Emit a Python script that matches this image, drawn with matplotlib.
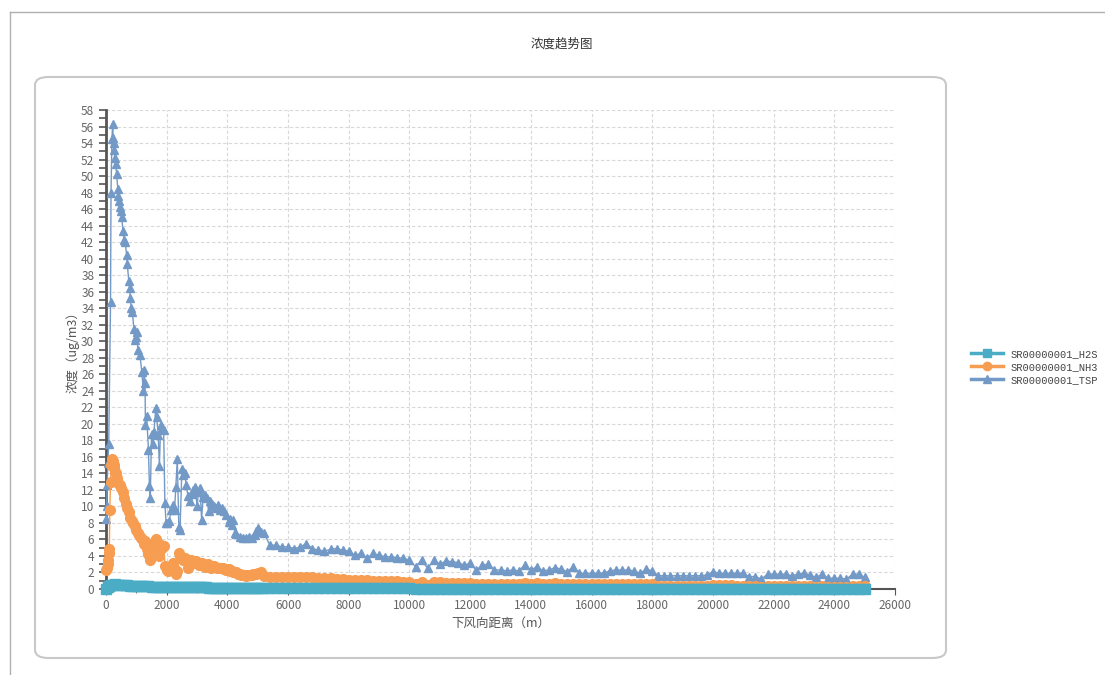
import matplotlib.pyplot as plt
from matplotlib.patches import FancyBboxPatch
from matplotlib.lines import Line2D
from matplotlib.ticker import MultipleLocator
import numpy as np

plt.rcParams['font.family'] = ['Noto Sans CJK SC', 'DejaVu Sans']

# near-source part (m, ug/m3)
tsp_x_near = [0, 20, 40, 60, 90, 150, 165, 195, 220, 240, 260, 280, 300, 320, 350, 390, 410, 430, 460, 490,
              520, 560, 600, 630, 680, 700, 750, 780, 800, 830, 870, 920, 950, 980, 1010, 1050, 1120, 1180,
              1230, 1260, 1285, 1300, 1340, 1400, 1430, 1460, 1500, 1540, 1580, 1640, 1670, 1720, 1760, 1800,
              1850, 1900, 1940, 1980, 2020, 2080, 2150, 2200, 2260, 2300, 2350, 2400, 2440, 2500, 2550, 2600,
              2640, 2700, 2760, 2820, 2880, 2940, 3000, 3050, 3100, 3150, 3200, 3260, 3320, 3380, 3440, 3500,
              3560, 3620, 3680, 3750, 3820, 3900, 3960, 4050, 4100, 4150, 4200, 4250, 4300, 4400, 4500, 4600,
              4700, 4800, 4900, 4950, 5000, 5100]
tsp_y_near = [8.5, 10.0, 12.6, 15.2, 17.6, 34.8, 48.0, 54.5, 56.3, 54.6, 54.0, 53.2, 52.2, 51.5, 50.2, 48.4, 47.6,
              47.0, 46.3, 45.8, 45.0, 43.3, 42.3, 42.0, 40.5, 39.4, 37.3, 36.4, 35.2, 34.0, 33.5, 31.5, 30.2,
              30.5, 31.1, 29.0, 28.3, 26.3, 24.0, 26.5, 25.0, 19.8, 21.0, 16.8, 12.5, 11.0, 18.8, 17.5, 19.0,
              21.9, 20.8, 18.6, 14.9, 19.8, 19.5, 19.2, 10.4, 8.0, 8.0, 8.2, 9.6, 10.2, 9.6, 12.4, 15.7, 7.5,
              7.2, 14.5, 13.8, 14.0, 12.6, 11.3, 10.6, 11.5, 12.0, 12.4, 10.0, 11.8, 12.2, 8.4, 11.2, 11.4,
              11.0, 9.5, 10.6, 10.3, 10.0, 9.8, 10.2, 9.6, 9.8, 9.4, 9.0, 8.1, 8.5, 7.8, 8.3, 6.8, 6.6, 6.3,
              6.2, 6.2, 6.3, 6.2, 6.5, 7.0, 7.4, 6.9]

nh3_x_near = [0, 25, 50, 75, 100, 110, 125, 150, 175, 200, 225, 250, 275, 300, 325, 350, 375, 400, 450, 500,
              550, 600, 650, 700, 750, 800, 850, 900, 950, 1000, 1050, 1100, 1150, 1200, 1250, 1300, 1350,
              1400, 1450, 1500, 1550, 1600, 1650, 1700, 1750, 1800, 1850, 1900, 1950, 2000, 2050, 2100, 2150,
              2200, 2250, 2300, 2350, 2400, 2450, 2500, 2550, 2600, 2650, 2700, 2750, 2800, 2850, 2900, 2950,
              3000, 3050, 3100, 3150, 3200, 3250, 3300, 3350, 3400, 3450, 3500, 3550, 3600, 3650, 3700, 3750,
              3800, 3850, 3900, 3950, 4000, 4050, 4100, 4150, 4200, 4250, 4300, 4350, 4400, 4450, 4500, 4550,
              4600, 4650, 4700, 4750, 4800, 4850, 4900, 4950, 5000, 5100]
nh3_y_near = [2.3, 2.6, 3.0, 3.5, 4.3, 4.8, 9.6, 13.0, 15.0, 15.8, 15.5, 15.0, 14.6, 14.2, 14.0, 13.5, 13.2,
              12.8, 12.6, 12.2, 11.8, 11.0, 10.3, 9.8, 9.3, 8.6, 8.2, 8.0, 7.6, 7.2, 6.8, 6.5, 6.2, 6.0, 5.5,
              5.8, 4.8, 4.2, 3.5, 4.8, 5.5, 5.8, 6.0, 5.5, 4.0, 5.3, 5.0, 5.2, 2.8, 2.3, 2.2, 2.5, 2.8, 3.1,
              2.5, 1.8, 2.2, 4.3, 4.0, 3.8, 3.5, 3.8, 3.4, 2.6, 3.0, 3.5, 3.3, 3.1, 3.4, 3.2, 2.9, 2.9, 3.1,
              3.0, 2.7, 2.8, 3.0, 2.8, 2.6, 2.7, 2.8, 2.7, 2.6, 2.6, 2.5, 2.5, 2.6, 2.4, 2.3, 2.3, 2.4, 2.2,
              2.2, 2.1, 2.0, 2.0, 1.8, 1.8, 1.7, 1.7, 1.7, 1.6, 1.7, 1.7, 1.7, 1.7, 1.8, 1.8, 1.8, 1.9, 2.0]

h2s_x_near = [0, 50, 100, 150, 200, 300, 400, 500, 600, 700, 800, 900, 1000, 1100, 1200, 1300, 1400, 1500,
              1600, 1700, 1800, 1900, 2000, 2100, 2200, 2300, 2400, 2500, 2600, 2700, 2800, 2900, 3000, 3100,
              3200, 3300, 3400, 3500, 3600, 3700, 3800, 3900, 4000, 4100, 4200, 4300, 4400, 4500, 4600, 4700,
              4800, 4900, 5000, 5100]
h2s_y_near = [0.05, 0.3, 0.4, 0.45, 0.5, 0.55, 0.52, 0.5, 0.48, 0.45, 0.42, 0.41, 0.4, 0.38, 0.35, 0.33,
              0.32, 0.3, 0.29, 0.28, 0.27, 0.26, 0.25, 0.24, 0.24, 0.23, 0.23, 0.22, 0.22, 0.21, 0.21, 0.2,
              0.2, 0.19, 0.19, 0.19, 0.18, 0.18, 0.17, 0.17, 0.16, 0.16, 0.15, 0.15, 0.15, 0.14, 0.14, 0.13,
              0.13, 0.13, 0.12, 0.12, 0.12, 0.12]

# far part, one receptor every 200 m
far_x = [5200, 5400, 5600, 5800, 6000, 6200, 6400, 6600, 6800, 7000, 7200, 7400, 7600, 7800, 8000, 8200, 8400,
         8600, 8800, 9000, 9200, 9400, 9600, 9800, 10000, 10200, 10400, 10600, 10800, 11000, 11200, 11400,
         11600, 11800, 12000, 12200, 12400, 12600, 12800, 13000, 13200, 13400, 13600, 13800, 14000, 14200,
         14400, 14600, 14800, 15000, 15200, 15400, 15600, 15800, 16000, 16200, 16400, 16600, 16800, 17000,
         17200, 17400, 17600, 17800, 18000, 18200, 18400, 18600, 18800, 19000, 19200, 19400, 19600, 19800,
         20000, 20200, 20400, 20600, 20800, 21000, 21200, 21400, 21600, 21800, 22000, 22200, 22400, 22600,
         22800, 23000, 23200, 23400, 23600, 23800, 24000, 24200, 24400, 24600, 24800, 25000]
tsp_far = [6.8, 5.3, 5.3, 5.1, 5.1, 4.9, 5.1, 5.5, 4.9, 4.7, 4.6, 4.8, 4.9, 4.7, 4.6, 4.1, 4.3, 3.7, 4.3, 4.1,
           3.9, 3.9, 3.8, 3.7, 3.5, 2.7, 3.5, 2.5, 3.5, 3.0, 3.4, 3.3, 3.2, 2.9, 3.1, 2.3, 2.9, 3.0, 2.3, 2.3,
           2.2, 2.3, 2.2, 2.9, 2.3, 2.7, 2.2, 2.3, 2.6, 2.4, 2.1, 2.7, 1.9, 1.9, 1.9, 1.9, 1.9, 2.2, 2.3, 2.3,
           2.3, 2.2, 1.9, 2.4, 2.2, 1.6, 1.6, 1.6, 1.6, 1.6, 1.6, 1.6, 1.6, 1.7, 2.1, 1.9, 1.9, 1.9, 1.9, 1.9,
           1.5, 1.5, 1.2, 1.8, 1.8, 1.8, 1.8, 1.6, 1.8, 1.9, 1.7, 1.4, 1.8, 1.3, 1.3, 1.3, 1.2, 1.8, 1.8, 1.4]
nh3_far = [1.6, 1.5, 1.5, 1.4, 1.4, 1.4, 1.4, 1.5, 1.4, 1.3, 1.3, 1.3, 1.2, 1.2, 1.1, 1.1, 1.1, 1.1, 1.0, 1.0,
           1.0, 1.0, 0.95, 0.9, 0.9, 0.6, 0.8, 0.5, 0.8, 0.8, 0.75, 0.75, 0.7, 0.7, 0.7, 0.55, 0.65, 0.65,
           0.55, 0.6, 0.6, 0.6, 0.6, 0.75, 0.6, 0.7, 0.6, 0.6, 0.7, 0.65, 0.6, 0.65, 0.55, 0.55, 0.55, 0.6,
           0.6, 0.65, 0.65, 0.65, 0.65, 0.6, 0.55, 0.65, 0.6, 0.35, 0.35, 0.35, 0.35, 0.35, 0.35, 0.35, 0.35,
           0.4, 0.45, 0.45, 0.45, 0.45, 0.4, 0.4, 0.35, 0.35, 0.3, 0.4, 0.4, 0.4, 0.35, 0.35, 0.4, 0.4, 0.35,
           0.3, 0.4, 0.3, 0.3, 0.3, 0.3, 0.4, 0.4, 0.35]
h2s_far = [0.12, 0.11, 0.11, 0.1, 0.1, 0.1, 0.1, 0.1, 0.1, 0.09, 0.09, 0.09, 0.09, 0.09, 0.08, 0.08, 0.08,
           0.08, 0.08, 0.08, 0.07, 0.07, 0.07, 0.07, 0.07, 0.06, 0.06, 0.06, 0.06, 0.06, 0.06, 0.06, 0.06,
           0.06, 0.06, 0.05, 0.05, 0.05, 0.05, 0.05, 0.05, 0.05, 0.05, 0.05, 0.05, 0.05, 0.05, 0.05, 0.05,
           0.05, 0.05, 0.05, 0.05, 0.05, 0.05, 0.05, 0.05, 0.05, 0.05, 0.05, 0.05, 0.05, 0.05, 0.05, 0.05,
           0.04, 0.04, 0.04, 0.04, 0.04, 0.04, 0.04, 0.04, 0.04, 0.04, 0.04, 0.04, 0.04, 0.04, 0.04, 0.04,
           0.04, 0.04, 0.04, 0.04, 0.04, 0.04, 0.04, 0.04, 0.04, 0.04, 0.04, 0.04, 0.04, 0.04, 0.04, 0.04,
           0.04, 0.04, 0.04]

names = ['SR00000001_H2S', 'SR00000001_NH3', 'SR00000001_TSP']
colors = ['#4bacc6', '#f79d52', '#7399c6']
markers = ['s', 'o', '^']

fig = plt.figure(figsize=(11.05, 6.75), dpi=100)

# page frame and rounded chart panel, kept behind the axes
fig.add_artist(Line2D([10 / 1105, 1], [1 - 12 / 675, 1 - 12 / 675], color='#b0b0b0', lw=1, zorder=-10))
fig.add_artist(Line2D([10 / 1105, 10 / 1105], [0, 1 - 12 / 675], color='#b0b0b0', lw=1, zorder=-10))
panel = FancyBboxPatch((35 / 1105, 1 - 658 / 675), 911 / 1105, 581 / 675,
                       boxstyle='round,pad=0,rounding_size=0.012', transform=fig.transFigure,
                       facecolor='white', edgecolor='#c8c8c8', lw=1.5, zorder=-10)
fig.add_artist(panel)

ax = fig.add_axes([106 / 1105, 1 - 589 / 675, 789 / 1105, 479 / 675])
ax.set_facecolor('none')
ax.set_zorder(5)

series = [
    (h2s_x_near + far_x, h2s_y_near + h2s_far),
    (nh3_x_near + far_x, nh3_y_near + nh3_far),
    (tsp_x_near + far_x, tsp_y_near + tsp_far),
]
zorders = [5, 4, 3]
sizes = [6.5, 7, 5.5]
for (xs, ys), name, c, m, z, ms in zip(series, names, colors, markers, zorders, sizes):
    ax.plot(xs, ys, color=c, marker=m, markersize=ms, lw=1, label=name, zorder=z,
            markeredgecolor=c, clip_on=False)

ax.set_xlim(0, 26000)
ax.set_ylim(0, 58)
ax.xaxis.set_major_locator(MultipleLocator(2000))
ax.xaxis.set_minor_locator(MultipleLocator(1000))
ax.yaxis.set_major_locator(MultipleLocator(2))
ax.yaxis.set_minor_locator(MultipleLocator(1))
ax.grid(True, which='major', color='#d8d8d8', ls=(0, (3, 2)), lw=0.8)
ax.set_axisbelow(True)

for s in ['top', 'right']:
    ax.spines[s].set_visible(False)
ax.spines['left'].set_color('#555555')
ax.spines['left'].set_linewidth(2)
ax.spines['bottom'].set_color('#555555')
ax.spines['bottom'].set_linewidth(1.5)
ax.tick_params(which='both', colors='#555555', labelcolor='#666666', labelsize=8.5)
ax.tick_params(axis='y', which='both', length=5, width=1.2)
ax.tick_params(axis='x', which='major', length=4)
ax.tick_params(axis='x', which='minor', length=3)

ax.set_xlabel('下风向距离（m）', fontsize=9, color='#555555', labelpad=3)
ax.set_ylabel('浓度（ug/m3）', fontsize=9, color='#555555', labelpad=1)
fig.text(562 / 1105, 1 - 44 / 675, '浓度趋势图', ha='center', va='center', fontsize=9, color='#333333')

# legend swatches use a thicker stroke like the original
leg_handles = [Line2D([], [], color=c, marker=m, markersize=6, lw=2.5) for c, m in zip(colors, markers)]
fig.legend(leg_handles, names, loc='center left', bbox_to_anchor=(962 / 1105, 1 - 367 / 675),
           frameon=False, prop={'family': 'Liberation Mono', 'size': 7.5}, handlelength=3,
           labelspacing=0.3, labelcolor='#444444')

fig.savefig('out.png', dpi=100)
